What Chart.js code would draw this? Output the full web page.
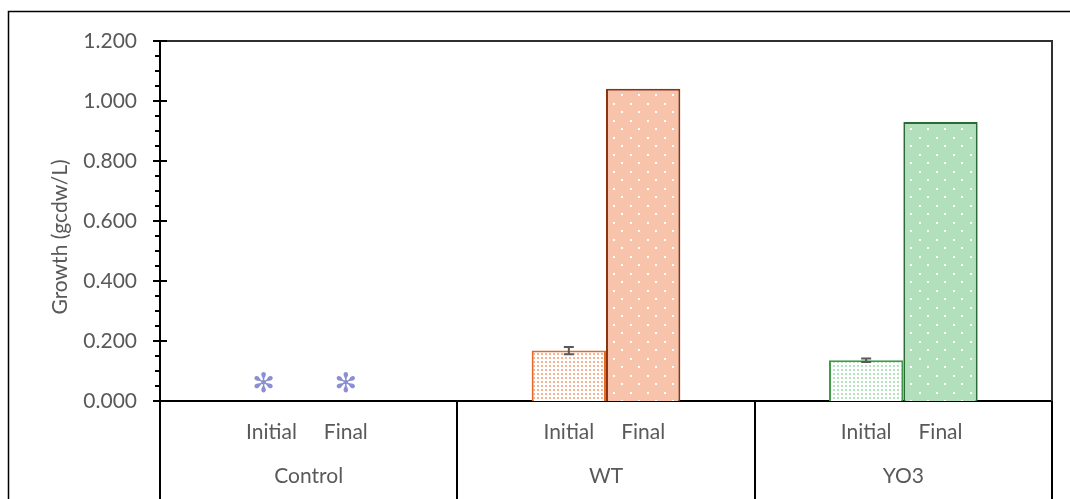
<!DOCTYPE html>
<html>
<head>
<meta charset="utf-8">
<script src="https://cdn.jsdelivr.net/npm/chart.js@4.4.1/dist/chart.umd.min.js"></script>
<style>
  html, body { margin: 0; padding: 0; background: #fff; }
</style>
</head>
<body>
<canvas id="growth-chart" width="1070" height="499"></canvas>
<script>
const groups = ["Control", "WT", "YO3"];
const phases = ["Initial", "Final"];
const initialValues = [0, 0.168, 0.136];
const finalValues = [0, 1.041, 0.930];
const initialErrors = [0, 0.012, 0.006];
const finalErrors = [0, 0, 0];
const zeroMarks = ["✻", "", ""];
const yMin = 0, yMax = 1.2, yStep = 0.2, yMinorStep = 0.05;

const textColor = "#595959";
const fontFamily = "Lato, 'Open Sans', sans-serif";
const fontSize = 21;

// dotted tiles like the Excel pattern fills
function patternCanvas(bg, dot, tile, dotSize, stagger) {
  const c = document.createElement("canvas");
  c.width = tile;
  c.height = tile;
  const g = c.getContext("2d");
  g.fillStyle = bg;
  g.fillRect(0, 0, tile, tile);
  g.fillStyle = dot;
  g.fillRect(1, 1, dotSize, dotSize);
  if (stagger) g.fillRect(1 + Math.floor(tile / 2), 1 + Math.floor(tile / 2), dotSize, dotSize);
  return c;
}

const ctx = document.getElementById("growth-chart");
const p = ctx.getContext("2d");
const orangeFine = p.createPattern(patternCanvas("#ffffff", "#f6b391", 4, 2), "repeat");
const greenFine = p.createPattern(patternCanvas("#ffffff", "#b5e2bf", 4, 2), "repeat");
const orangeDots = p.createPattern(patternCanvas("#f8c3ab", "#ffffff", 17, 2, true), "repeat");
const greenDots = p.createPattern(patternCanvas("#b2e0bc", "#ffffff", 17, 2, true), "repeat");

const errors = [initialErrors, finalErrors];

const extras = {
  id: "extras",
  afterDraw(chart) {
    const { ctx, chartArea: a, scales: { y } } = chart;
    ctx.save();

    // outer frame
    ctx.strokeStyle = "#000";
    ctx.lineWidth = 1.5;
    ctx.beginPath();
    ctx.moveTo(8.5, 499);
    ctx.lineTo(8.5, 11.5);
    ctx.lineTo(1070, 11.5);
    ctx.stroke();

    // plot area top and right edge
    ctx.lineWidth = 2;
    ctx.strokeStyle = "#303030";
    ctx.beginPath();
    ctx.moveTo(a.left, a.top);
    ctx.lineTo(a.right, a.top);
    ctx.lineTo(a.right, a.bottom);
    ctx.stroke();

    // y ticks: majors cross the axis, minors outside
    ctx.strokeStyle = "#000";
    const n = Math.round((yMax - yMin) / yMinorStep);
    for (let i = 0; i <= n; i++) {
      const v = yMin + i * yMinorStep;
      const py = Math.round(y.getPixelForValue(v));
      const major = i % Math.round(yStep / yMinorStep) === 0;
      ctx.beginPath();
      ctx.moveTo(a.left - (major ? 7 : 5), py);
      ctx.lineTo(a.left + (major ? 7 : 0), py);
      ctx.stroke();
    }

    // y title
    ctx.fillStyle = textColor;
    ctx.font = fontSize + "px " + fontFamily;
    ctx.textAlign = "center";
    ctx.textBaseline = "middle";
    ctx.save();
    ctx.translate(60, (a.top + a.bottom) / 2 + 16);
    ctx.rotate(-Math.PI / 2);
    ctx.fillText("Growth (gcdw/L)", 0, 0);
    ctx.restore();

    chart.data.datasets.forEach((ds, d) => {
      const meta = chart.getDatasetMeta(d);
      meta.data.forEach((bar, i) => {
        // phase label under each bar
        ctx.fillStyle = textColor;
        ctx.font = fontSize + "px " + fontFamily;
        ctx.fillText(phases[d], bar.x, a.bottom + 31);

        // error bars
        const err = errors[d][i];
        if (err) {
          const v = ds.data[i];
          const t = y.getPixelForValue(v + err);
          const b = y.getPixelForValue(v - err);
          ctx.strokeStyle = "#595959";
          ctx.lineWidth = 2;
          ctx.beginPath();
          ctx.moveTo(bar.x, t); ctx.lineTo(bar.x, b);
          ctx.moveTo(bar.x - 5, t); ctx.lineTo(bar.x + 5, t);
          ctx.moveTo(bar.x - 5, b); ctx.lineTo(bar.x + 5, b);
          ctx.stroke();
        }

        // marks for zero values
        if (zeroMarks[i]) {
          ctx.fillStyle = "#8a8fd2";
          ctx.font = "27px 'DejaVu Sans'";
          ctx.fillText(zeroMarks[i], bar.x - (d === 0 ? 8 : 0), y.getPixelForValue(0) - 16);
        }
      });
    });
    ctx.restore();
  }
};

new Chart(ctx, {
  type: "bar",
  data: {
    labels: groups,
    datasets: [
      {
        label: phases[0],
        data: initialValues,
        backgroundColor: ["rgba(0,0,0,0)", orangeFine, greenFine],
        borderColor: ["rgba(0,0,0,0)", "#e2692a", "#3f9a4a"],
        borderWidth: 2,
        categoryPercentage: 0.5,
        barPercentage: 1,
      },
      {
        label: phases[1],
        data: finalValues,
        backgroundColor: ["rgba(0,0,0,0)", orangeDots, greenDots],
        borderColor: ["rgba(0,0,0,0)", "#8b3510", "#2b6a35"],
        borderWidth: 2,
        categoryPercentage: 0.5,
        barPercentage: 1,
      },
    ],
  },
  options: {
    responsive: false,
    animation: false,
    devicePixelRatio: 1,
    layout: { padding: { left: 0, top: 41, right: 18, bottom: 0 } },
    plugins: {
      legend: { display: false },
      tooltip: { enabled: false },
    },
    scales: {
      x: {
        offset: true,
        grid: {
          display: true,
          offset: true,
          drawOnChartArea: false,
          drawTicks: true,
          tickLength: 98,
          color: "#000",
          lineWidth: 2,
        },
        border: { display: true, color: "#000", width: 2 },
        ticks: {
          padding: -35,
          color: textColor,
          font: { size: fontSize, family: fontFamily },
        },
        afterFit(s) { s.height = 98; },
      },
      y: {
        min: yMin,
        max: yMax,
        grid: { display: false, drawTicks: false },
        border: { display: true, color: "#000", width: 2 },
        ticks: {
          stepSize: yStep,
          padding: 23,
          color: textColor,
          font: { size: fontSize, family: fontFamily },
          callback: (v) => v.toFixed(3),
        },
        afterFit(s) { s.width = 160; },
      },
    },
  },
  plugins: [extras],
});
</script>
</body>
</html>
